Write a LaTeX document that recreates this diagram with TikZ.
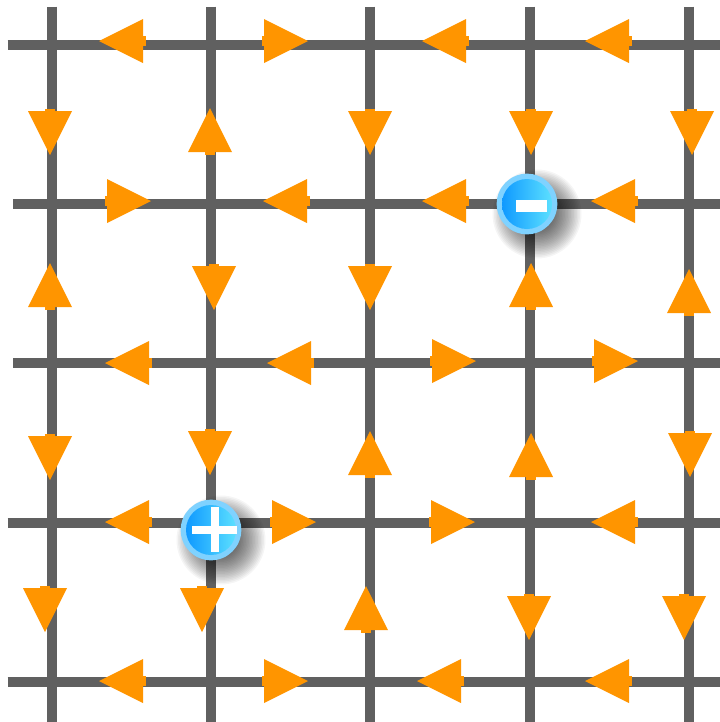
\documentclass[tikz,border=0pt]{standalone}
\usetikzlibrary{calc}
\definecolor{gridgray}{HTML}{606060}
\definecolor{arroworange}{HTML}{FF9500}
\definecolor{ringblue}{HTML}{7FD2FF}
\definecolor{coreleft}{HTML}{0F99FF}
\definecolor{coreright}{HTML}{5CE0FF}
\tikzset{
  gridline/.style={draw=gridgray,line width=7.5pt,line cap=butt},
  chargering/.style={circle,fill=ringblue,inner sep=0pt,minimum size=45.5pt},
  chargecore/.style={circle,left color=coreleft,right color=coreright,inner sep=0pt,minimum size=37.5pt},
  arrowbody/.style={fill=arroworange,draw=none},
  signbar/.style={fill=white,draw=none}
}
\begin{document}
\begin{tikzpicture}[x=0.75pt,y=-0.75pt]
\useasboundingbox (0,0) rectangle (720,722);
\clip (0,0) rectangle (720,722);
\fill[white] (0,0) rectangle (720,722);
% free ends of the grid lines
\foreach \n/\x in {1/51.5,2/211,3/370,4/530,5/689}{
  \coordinate (vt\n) at (\x,6.5);
  \coordinate (vb\n) at (\x,722);
}
\foreach \n/\y/\s in {1/44.5/7.5,2/203.5/13,3/363/13,4/522.5/7.5,5/681.5/7.5}{
  \coordinate (hl\n) at (\s,\y);
  \coordinate (hr\n) at (720,\y);
}
\foreach \n in {1,...,5}{
  \draw[gridline] (vt\n) -- (vb\n);
  \draw[gridline] (hl\n) -- (hr\n);
}
% arrows: base-centre x / y / rotation
\foreach \x/\y/\r in {
  143/41/180, 264/41/0, 466/41/180, 629/41/180,
  107/201/0, 307/201/180, 466/201/180, 635/201/180,
  149/363/180, 311/363/180, 432/361/0, 594/361/0,
  149/522/180, 272/522/0, 431/522/0, 635/522/180,
  143/681/180, 264/681/0, 461/681/180, 629/681/180,
  50/111/-90, 50/307/90, 50/436/-90, 45/588/-90,
  210/152/90, 214/266/-90, 210/431/-90, 202/588/-90,
  370/111/-90, 370/266/-90, 370/475/90, 366/630/90,
  531/111/-90, 531/307/90, 531/477/90, 529/596/-90,
  692/111/-90, 689/313/90, 690/433/-90, 684/596/-90}{
  \begin{scope}[shift={(\x,\y)},rotate=\r]
    \fill[arrowbody] (0,-22) -- (44,0) -- (0,22) -- cycle;
    \fill[arrowbody] (-2.5,-5) rectangle (1,5);
  \end{scope}
}
% soft shadows
\foreach \c in {{527,204},{211,530}}{
  \begin{scope}[shift={(\c)}]
    \foreach \r in {16,17.5,...,44.5}{
      \fill[black,opacity=.04] (10,10) circle[radius=\r];
    }
  \end{scope}
}
% negative charge
\node[chargering] (minusring) at (527,204) {};
\node[chargecore] (minuscore) at (527,204) {};
\fill[signbar] ($(minuscore)+(-11,-4)$) rectangle ($(minuscore)+(20,8)$);
% positive charge
\node[chargering] (plusring) at (211,530) {};
\node[chargecore] (pluscore) at (211,530) {};
\fill[signbar] ($(pluscore)+(-19,-4.5)$) rectangle ($(pluscore)+(26,3.5)$);
\fill[signbar] ($(pluscore)+(0,-23)$) rectangle ($(pluscore)+(8,22)$);
\end{tikzpicture}
\end{document}
